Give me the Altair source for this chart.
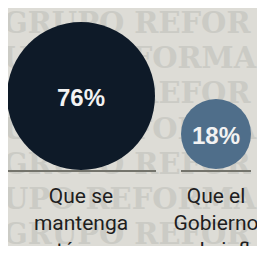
import altair as alt
import pandas as pd

# --- data ---
categories = ["Que se mantenga autónomo", "Que el Gobierno pueda influir"]
label_lines = ["Que se\nmantenga\nautónomo", "Que el\nGobierno\npueda influir"]
values = [76, 18]
pct_labels = ["76%", "18%"]
circle_colors = ["#0e1a28", "#4f6e8a"]

watermark_rows = [0, 1, 2, 3, 4, 5, 6]
watermark_text = ["GRUPO REFOR", "UPO REFORMA", "GRUPO REFOR", "UPO REFORMA",
                  "GRUPO REFOR", "UPO REFORMA", "GRUPO REFOR"]

df = pd.DataFrame({
    "cat": categories,
    "label": label_lines,
    "value": values,
    "pct": pct_labels,
    "color": circle_colors,
})
wm = pd.DataFrame({"row": watermark_rows, "txt": watermark_text})

xscale = alt.Scale(type="point", domain=categories, range=[73, 208], padding=0)
yscale = alt.Scale(domain=[18, 76], range=[126, 88])

x_enc = alt.X("cat:N", scale=xscale, axis=None)

watermark = alt.Chart(wm).mark_text(
    font="DejaVu Serif", fontWeight="bold", fontSize=29, align="left",
    baseline="alphabetic", color="#cbcbc5"
).encode(
    x=alt.value(-5),
    y=alt.Y("row:Q", scale=alt.Scale(domain=[0, 6], range=[25, 236]), axis=None),
    text="txt:N",
)

baselines = alt.Chart(df).mark_tick(orient="horizontal", thickness=2, color="#74746c", opacity=1).encode(
    x=x_enc,
    y=alt.value(163),
    size=alt.Size("value:Q", scale=alt.Scale(domain=[18, 76], range=[70, 150]), legend=None),
)

circles = alt.Chart(df).mark_circle(opacity=1).encode(
    x=x_enc,
    y=alt.Y("value:Q", scale=yscale, axis=None),
    size=alt.Size("value:Q", scale=alt.Scale(domain=[18, 76], range=[4900, 21904]), legend=None),
    color=alt.Color("color:N", scale=None),
)

pct = alt.Chart(df).mark_text(
    font="Liberation Sans", fontWeight="bold", fontSize=24, color="#f2f2f2",
    baseline="middle", align="center", dy=3
).encode(
    x=x_enc,
    y=alt.Y("value:Q", scale=yscale, axis=None),
    text="pct:N",
)

labels = alt.Chart(df).mark_text(
    font="Roboto", fontSize=21, color="#1e1e1e", align="center",
    baseline="alphabetic", lineBreak="\n", lineHeight=27
).encode(
    x=x_enc,
    y=alt.value(195),
    text="label:N",
)

chart = alt.layer(watermark, baselines, circles, pct, labels).resolve_scale(
    y="independent", size="independent"
).properties(
    width=249, height=238, padding=0,
    autosize=alt.AutoSizeParams(type="none"),
    background="#dddcd6",
).configure_view(stroke=None)

chart.save("out.html", embed_options={"renderer": "svg", "actions": False})
